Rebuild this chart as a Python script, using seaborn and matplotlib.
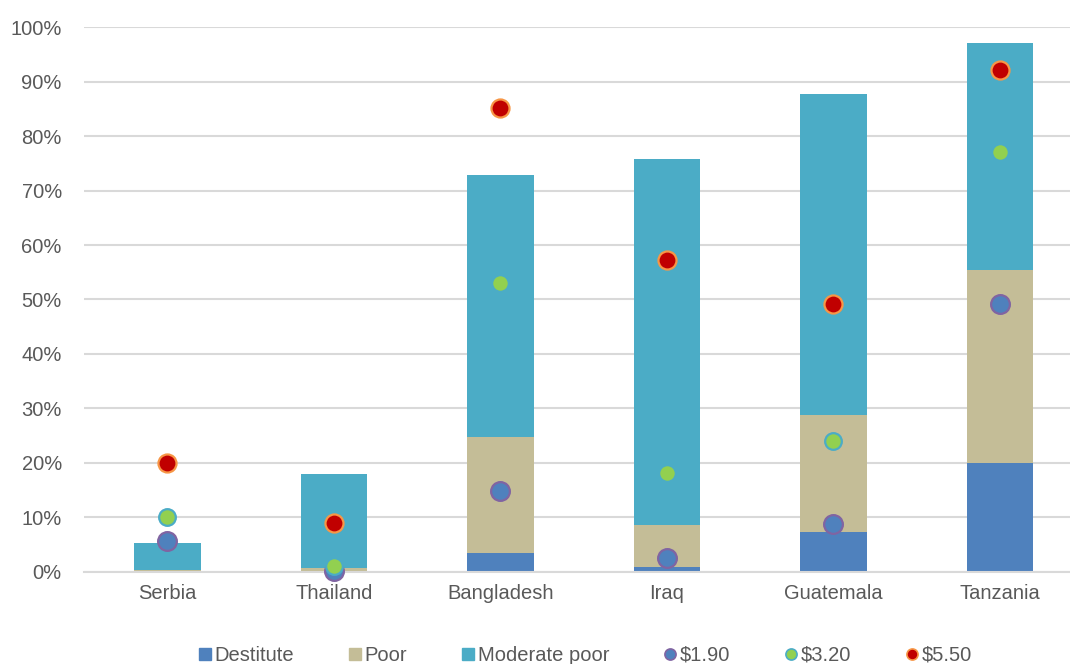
import matplotlib
matplotlib.use("Agg")
import matplotlib.pyplot as plt
from matplotlib.lines import Line2D
from matplotlib.ticker import PercentFormatter
import numpy as np
import pandas as pd
import seaborn as sns

countries = ["Serbia", "Thailand", "Bangladesh", "Iraq", "Guatemala", "Tanzania"]
destitute = [0.0, 0.1, 3.4, 1.0, 7.4, 20.0]
poor = [0.3, 0.6, 21.3, 7.6, 21.4, 35.5]
moderate_poor = [5.0, 17.3, 48.1, 67.2, 58.9, 41.6]
line_190 = [5.6, 0.1, 14.9, 2.5, 8.8, 49.2]
line_320 = [10.0, 1.1, 53.0, 18.2, 24.1, 77.1]
line_550 = [20.0, 9.0, 85.1, 57.2, 49.1, 92.1]

c_dest = "#4f81bd"
c_poor = "#c4bd97"
c_mod = "#4bacc6"
text_col = "#595959"
grid_col = "#d9d9d9"

df = pd.DataFrame({
    "country": countries,
    "destitute": np.array(destitute) / 100,
    "poor": np.array(poor) / 100,
    "moderate": np.array(moderate_poor) / 100,
    "l190": np.array(line_190) / 100,
    "l320": np.array(line_320) / 100,
    "l550": np.array(line_550) / 100,
})
df["top_poor"] = df["destitute"] + df["poor"]
df["top_mod"] = df["top_poor"] + df["moderate"]

sns.set_theme(style="white")
plt.rcParams["font.family"] = ["Liberation Sans", "DejaVu Sans"]

fig = plt.figure(figsize=(10.70, 6.64), dpi=100)
ax = fig.add_axes([0.0785, 0.1386, 0.9215, 0.8207])

# stacked bars: draw cumulative totals back to front
for col, color in [("top_mod", c_mod), ("top_poor", c_poor), ("destitute", c_dest)]:
    sns.barplot(data=df, x="country", y=col, color=color, width=0.4,
                saturation=1, ax=ax, zorder=2, linewidth=0)

# poverty-line markers
for col, fc, ec, sz in [("l190", c_dest, "#8064a2", 13.5),
                        ("l320", "#92d050", c_mod, 12),
                        ("l550", "#c00000", "#f79646", 13)]:
    sns.stripplot(data=df, x="country", y=col, jitter=False, color=fc,
                  edgecolor=ec, linewidth=1.6, size=sz, ax=ax, zorder=4)

for coll in ax.collections:
    coll.set_zorder(4)
    coll.set_clip_on(False)

ax.set_ylim(0, 1.0)
ax.set_xlim(-0.5, 5.42)
ax.yaxis.set_major_formatter(PercentFormatter(1.0, decimals=0))
ax.set_yticks(np.arange(0, 1.01, 0.1))
ax.grid(axis="y", color=grid_col, linewidth=1.5, zorder=0)
ax.set_axisbelow(True)
for s in ["top", "right", "left"]:
    ax.spines[s].set_visible(False)
ax.spines["bottom"].set_color(grid_col)
ax.spines["bottom"].set_linewidth(1.5)
ax.tick_params(axis="both", length=0, labelsize=14.5, labelcolor=text_col)
ax.tick_params(axis="y", pad=16)
ax.tick_params(axis="x", pad=9)
ax.set_xlabel("")
ax.set_ylabel("")

handles = [
    Line2D([], [], marker="s", linestyle="", color=c_dest, markersize=9),
    Line2D([], [], marker="s", linestyle="", color=c_poor, markersize=9),
    Line2D([], [], marker="s", linestyle="", color=c_mod, markersize=9),
    Line2D([], [], marker="o", linestyle="", markerfacecolor=c_dest,
           markeredgecolor="#8064a2", markeredgewidth=1.2, markersize=8),
    Line2D([], [], marker="o", linestyle="", markerfacecolor="#92d050",
           markeredgecolor=c_mod, markeredgewidth=1.2, markersize=8),
    Line2D([], [], marker="o", linestyle="", markerfacecolor="#c00000",
           markeredgecolor="#f79646", markeredgewidth=1.2, markersize=8),
]
labels = ["Destitute", "Poor", "Moderate poor", "$1.90", "$3.20", "$5.50"]
leg = fig.legend(handles, labels, loc="center", bbox_to_anchor=(0.547, 0.013),
                 ncol=6, frameon=False, fontsize=14.5, handlelength=0.6,
                 handletextpad=0.2, columnspacing=2.7, labelcolor=text_col)

fig.savefig("out.png", dpi=100)
